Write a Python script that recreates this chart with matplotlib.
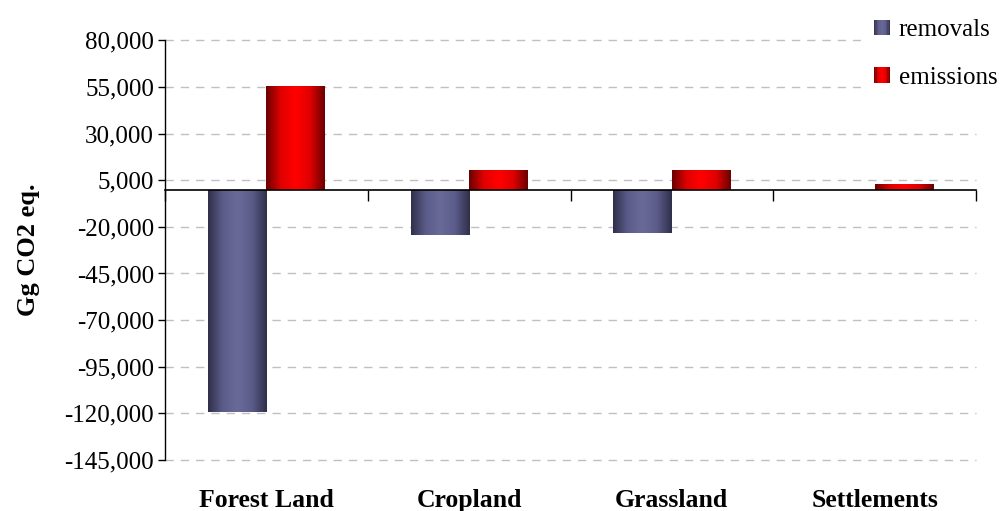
import numpy as np
import matplotlib
matplotlib.use("Agg")
import matplotlib.pyplot as plt
from matplotlib.colors import LinearSegmentedColormap
from matplotlib.patches import Rectangle
from matplotlib.legend_handler import HandlerBase
from matplotlib.ticker import FuncFormatter

categories = ["Forest Land", "Cropland", "Grassland", "Settlements"]
removals = [-119500, -24200, -23200, 0]
emissions = [55500, 10500, 10500, 3200]
yticks = list(range(-145000, 80001, 25000))

plt.rcParams['font.family'] = ['Liberation Serif', 'DejaVu Serif']

fig = plt.figure(figsize=(10.02, 5.11), dpi=100)
ax = fig.add_axes([165/1002, 1-460/511, (976-165)/1002, (460-40.3)/511])

x = np.arange(len(categories))
w = 0.289
cm_rem = LinearSegmentedColormap.from_list("rem", ["#2f2f4a", "#5c5c8a", "#6a6a9a", "#5c5c8a", "#2f2f4a"])
cm_emi = LinearSegmentedColormap.from_list("emi", ["#6a0000", "#e00000", "#ff0000", "#e00000", "#6a0000"])

bars_r = ax.bar(x - w/2, removals, w, color="#5c5c8a", zorder=3)
bars_e = ax.bar(x + w/2, emissions, w, color="#ff0000", zorder=3)

grad = np.linspace(0, 1, 256).reshape(1, -1)
for bars, cmap in ((bars_r, cm_rem), (bars_e, cm_emi)):
    for b in bars:
        h = b.get_height()
        if h == 0:
            continue
        x0 = b.get_x(); x1 = x0 + b.get_width()
        y0 = b.get_y(); y1 = y0 + h
        im = ax.imshow(grad, cmap=cmap, aspect='auto', extent=(x0, x1, min(y0, y1), max(y0, y1)),
                       zorder=4, interpolation='bilinear')
        im.set_clip_path(b)
        b.set_facecolor('none')

ax.set_xlim(-0.5, len(categories) - 0.5)
ax.set_ylim(-145000, 80000)
ax.set_yticks(yticks)
ax.yaxis.set_major_formatter(FuncFormatter(lambda v, p: f"{int(v):,}"))
ax.tick_params(axis='y', labelsize=18, length=5, width=1, direction='out', pad=3)
ax.grid(axis='y', linestyle=(0, (6, 5)), color='#c0c0c0', linewidth=1, zorder=0)
for gl in ax.get_ygridlines():
    gl.set_clip_on(False)

for s in ('top', 'right'):
    ax.spines[s].set_visible(False)
ax.spines['left'].set_linewidth(1)
ax.spines['bottom'].set_position(('data', 0))
ax.spines['bottom'].set_linewidth(1.2)
ax.spines['bottom'].set_zorder(5)
ax.set_xticks(x)
ax.set_xticklabels([])
ax.tick_params(axis='x', which='major', length=0)
ax.set_xticks(np.arange(len(categories) + 1) - 0.5, minor=True)
ax.tick_params(axis='x', which='minor', length=8, width=1, direction='out')

for xi, c in zip(x, categories):
    ax.text(xi, (460 - 507) / 420, c, transform=ax.get_xaxis_transform(), ha='center', va='baseline',
            fontsize=18.5, fontweight='bold')

ax.set_ylabel("Gg CO2 eq.", fontsize=19, fontweight='bold')
ax.yaxis.set_label_coords((40 - 165) / 811, (460 - 250) / 420)


class GradHandler(HandlerBase):
    def __init__(self, cmap):
        super().__init__()
        self.cmap = cmap

    def create_artists(self, legend, orig_handle, xdescent, ydescent, width, height, fontsize, trans):
        arts = []
        n = 12
        side = height * 0.9
        x0 = width - side
        for i in range(n):
            r = Rectangle((x0 + i * side / n - xdescent, -ydescent + (height - side) / 2), side / n + 0.3, side,
                          facecolor=self.cmap((i + 0.5) / n), edgecolor='none', transform=trans)
            arts.append(r)
        return arts


h1 = Rectangle((0, 0), 1, 1)
h2 = Rectangle((0, 0), 1, 1)
leg = fig.legend([h1, h2], ["removals", "emissions"], loc='upper right',
                 bbox_to_anchor=(1.0 + 9/1002, 1.0 - 5/511), fontsize=18, frameon=True, facecolor='white',
                 edgecolor='none', framealpha=1, labelspacing=1.0, handlelength=0.85,
                 handletextpad=0.35, borderaxespad=0.25, borderpad=0.3,
                 handler_map={h1: GradHandler(cm_rem), h2: GradHandler(cm_emi)})
leg.set_zorder(10)

fig.savefig("out.png", dpi=100)
